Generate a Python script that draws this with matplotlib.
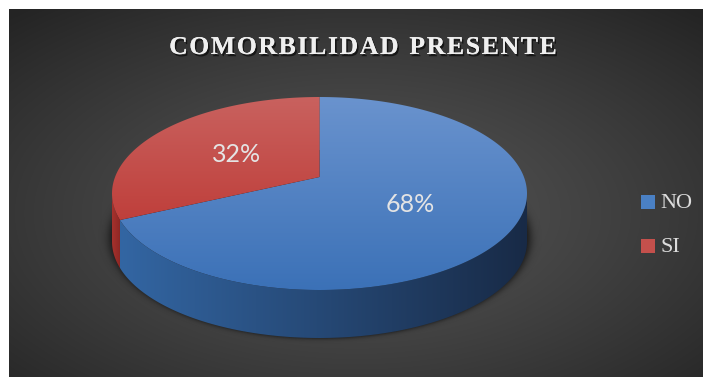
import numpy as np
import matplotlib
matplotlib.use("Agg")
import matplotlib.pyplot as plt
from matplotlib.patches import Polygon, Rectangle
import matplotlib.patheffects as pe

# ---- data ----
title = "COMORBILIDAD PRESENTE"
categories = ["NO", "SI"]
values = [68, 32]

# ---- style ----
top_grad = [("#6a93ce", "#3b71b7"), ("#c9625f", "#bf3f3b")]
side_grad = [("#3366a3", "#182a46"), ("#a8322e", "#8c2724")]
legend_cols = ["#4a80c4", "#c4504c"]

W, H = 704, 377
fig = plt.figure(figsize=(W / 100, H / 100), dpi=100)
fig.patch.set_facecolor("white")
ax = fig.add_axes([0, 0, 1, 1])
ax.set_xlim(0, W)
ax.set_ylim(H, 0)
ax.axis("off")

# ---- radial gradient background ----
bx0, by0, bx1, by1 = 9, 9, 703, 377
yy, xx = np.mgrid[by0:by1, bx0:bx1].astype(float)
gcx, gcy = (bx0 + bx1) / 2, (by0 + by1) / 2 + 20
rr = np.sqrt(((xx - gcx) / ((bx1 - bx0) / 2)) ** 2 + ((yy - gcy) / ((by1 - by0) / 2)) ** 2) / 1.45
lv = 0.335 - 0.19 * np.clip(rr, 0, 1) ** 1.2
bg = np.dstack([lv, lv, lv])
ax.imshow(bg, extent=(bx0, bx1, by1, by0), zorder=0, interpolation="bilinear")
ax.set_aspect("auto")
ax.set_xlim(0, W)
ax.set_ylim(H, 0)

# ---- pie geometry (perspective view of a disc) ----
cx, cy = 319.5, 193.5          # centre of the top ellipse
rx_out, ry_out = 207.5, 96.5   # outer half-axes on screen
lift = 16.5                    # how far the disc centre sits above the ellipse centre
depth = 48                     # thickness of the pie
kc = 2 * lift / (2 * ry_out)
ka = rx_out * np.sqrt(1 - kc ** 2)
kb = ry_out


def proj(phi_deg, r=1.0, dz=0.0):
    t = np.radians(phi_deg)
    u, v = r * np.cos(t), r * np.sin(t)
    den = 1 + kc * v
    X = ka * u / den
    Y = (kb * v + lift) / den
    return cx + X, cy - Y + dz


def gradient_fill(poly_xy, c1, c2, horizontal, z):
    patch = Polygon(poly_xy, closed=True, facecolor="none", edgecolor="none", zorder=z)
    ax.add_patch(patch)
    xmin, ymin = poly_xy.min(axis=0)
    xmax, ymax = poly_xy.max(axis=0)
    a = np.array(matplotlib.colors.to_rgb(c1))
    b = np.array(matplotlib.colors.to_rgb(c2))
    n = 256
    t = np.linspace(0, 1, n)
    if horizontal:
        img = (a[None, None, :] * (1 - t)[None, :, None] + b[None, None, :] * t[None, :, None])
    else:
        img = (a[None, None, :] * (1 - t)[:, None, None] + b[None, None, :] * t[:, None, None])
    im = ax.imshow(img, extent=(xmin - 1, xmax + 1, ymax + 1, ymin - 1), zorder=z,
                   interpolation="bilinear", aspect="auto")
    im.set_clip_path(patch)


# slice angles (clockwise from 12 o'clock)
total = float(sum(values))
bounds = []
start = 90.0
for v in values:
    end = start - 360.0 * v / total
    bounds.append((end, start))
    start = end

# ---- soft shadow under the pie ----
sy0, sy1, sx0, sx1 = 150, 377, 90, 560
syy, sxx = np.mgrid[sy0:sy1, sx0:sx1].astype(float)
ecx, ecy = cx, cy + depth - 4
dn = np.sqrt(((sxx - ecx) / (rx_out - 3)) ** 2 + ((syy - ecy) / (ry_out + 1)) ** 2)
dist_px = (dn - 1) * 95
alpha = 0.6 * np.exp(-np.clip(dist_px, 0, None) ** 2 / (2 * 2.6 ** 2))
alpha[dist_px < 0] = 0.6
sh = np.zeros((sy1 - sy0, sx1 - sx0, 4))
sh[..., 3] = alpha
ax.imshow(sh, extent=(sx0, sx1, sy1, sy0), zorder=1, interpolation="bilinear", aspect="auto")

# ---- side walls ----
alpha_s = np.degrees(np.arcsin(kc))
vis_lo, vis_hi = 180 + alpha_s, 360 - alpha_s
for i, (a0, a1) in enumerate(bounds):
    for shift in (-360, 0, 360):
        lo = max(a0 + shift, vis_lo)
        hi = min(a1 + shift, vis_hi)
        if hi > lo:
            ph = np.linspace(lo, hi, 200)
            tx, ty = proj(ph)
            bx, by = proj(ph, dz=depth)
            poly = np.column_stack([np.concatenate([tx, bx[::-1]]),
                                    np.concatenate([ty, by[::-1]])])
            gradient_fill(poly, side_grad[i][0], side_grad[i][1], True, 2)

# ---- top faces ----
for i, (a0, a1) in enumerate(bounds):
    ph = np.linspace(a0, a1, 400)
    tx, ty = proj(ph)
    ox, oy = proj(0.0, r=0.0)
    poly = np.column_stack([np.concatenate([[ox], tx]), np.concatenate([[oy], ty])])
    gradient_fill(poly, top_grad[i][0], top_grad[i][1], False, 3)

# ---- percentage labels ----
for i, (a0, a1) in enumerate(bounds):
    mid = (a0 + a1) / 2
    lx, ly = proj(mid, r=0.5)
    ax.text(lx, ly + 1, f"{values[i] / total * 100:.0f}%", ha="center", va="center",
            fontsize=18, color="#e4e4e4", family="Lato", zorder=5)

# ---- legend ----
leg_x, leg_y0, leg_dy = 641, 202, 44
for i, name in enumerate(categories):
    yc = leg_y0 + i * leg_dy
    ax.add_patch(Rectangle((leg_x, yc - 7), 14, 14, facecolor=legend_cols[i],
                           edgecolor="none", zorder=5))
    ax.text(leg_x + 19, yc + 1, name, ha="left", va="center", fontsize=16,
            color="#dcdcdc", family="Liberation Serif", zorder=5)

# ---- title with letter spacing ----
fig.canvas.draw()
renderer = fig.canvas.get_renderer()
tracking = 1.6
title_kw = dict(fontsize=18.5, fontweight="bold", family="Liberation Serif",
                color="#efefef", va="baseline", ha="left", zorder=6)
widths = []
for ch in title:
    t = ax.text(0, 0, ch if ch != " " else "I", **title_kw)
    w = t.get_window_extent(renderer).width
    t.remove()
    widths.append(w if ch != " " else w * 0.75)
total_w = sum(widths) + tracking * (len(title) - 1)
x = 363 - total_w / 2
for ch, w in zip(title, widths):
    if ch != " ":
        t = ax.text(x, 54, ch, **title_kw)
        t.set_path_effects([pe.withSimplePatchShadow(offset=(1.2, -1.6), shadow_rgbFace="black",
                                                     alpha=0.6),
                            pe.Normal()])
    x += w + tracking

fig.savefig("out.png", dpi=100, facecolor="white")
